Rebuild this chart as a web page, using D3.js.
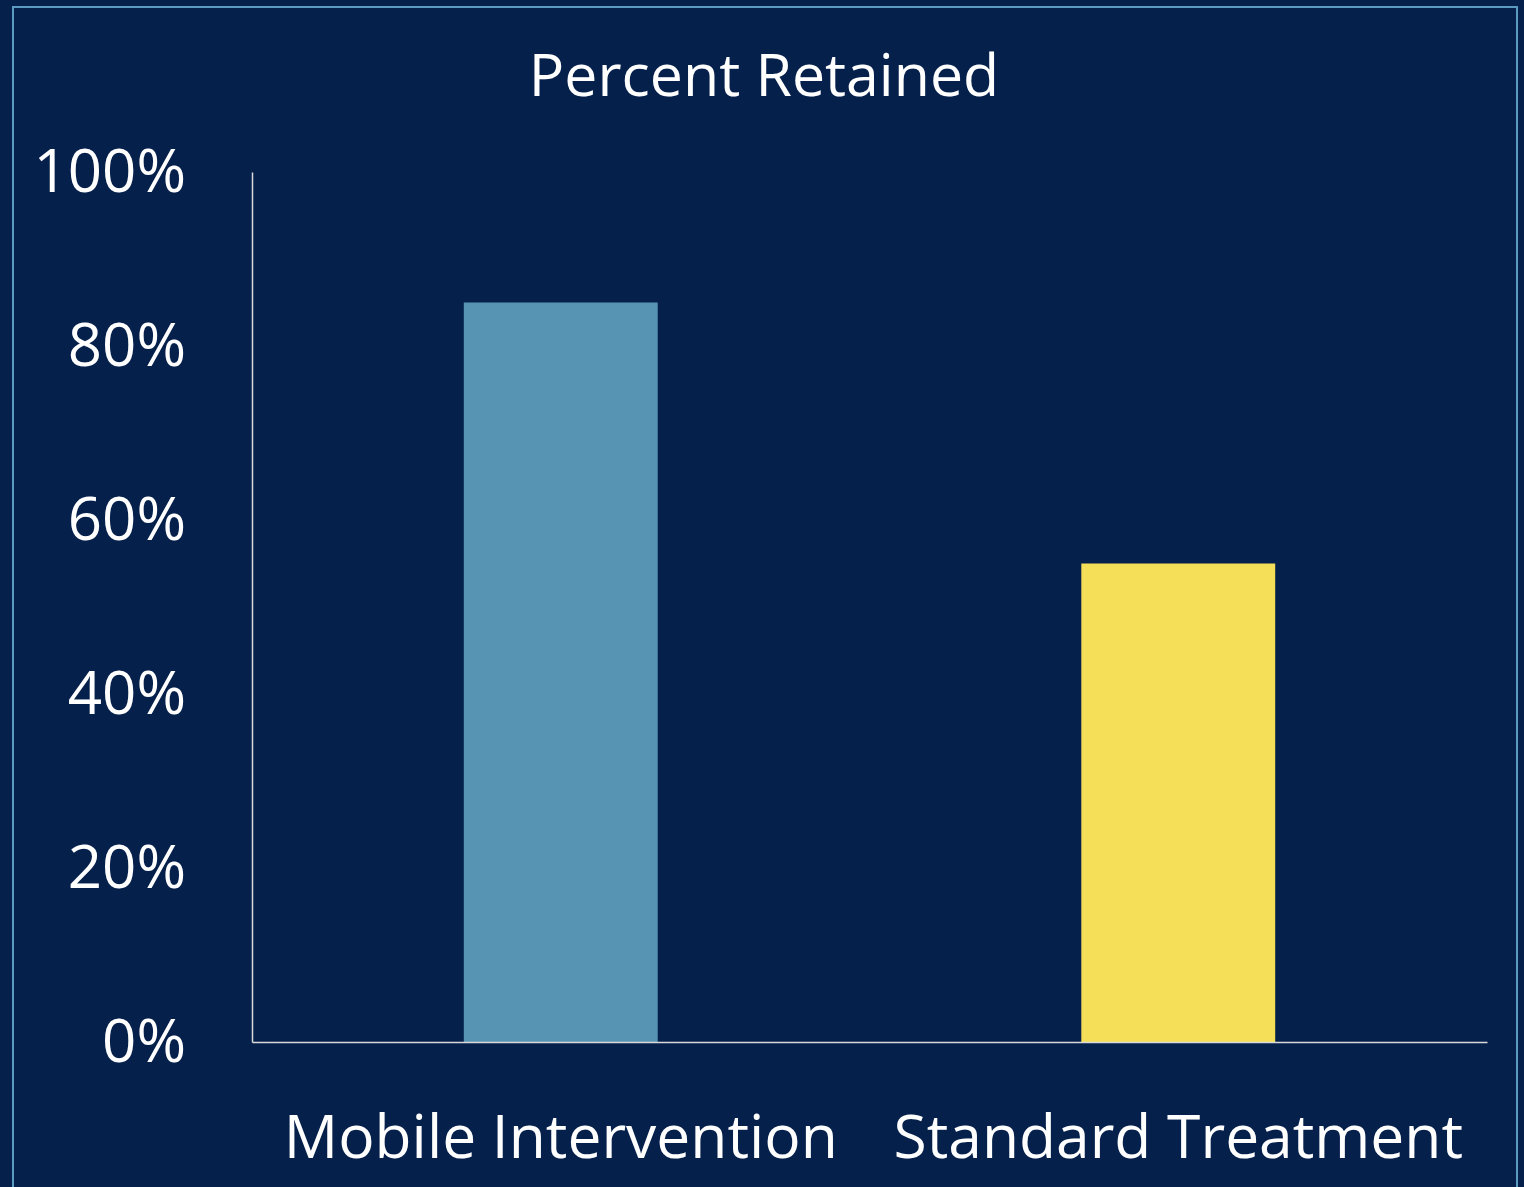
<!DOCTYPE html>
<html>
<head>
<meta charset="utf-8">
<script src="https://cdn.jsdelivr.net/npm/d3@7"></script>
<style>
  html, body { margin: 0; padding: 0; background: #06204C; }
  svg { display: block; }
  text { font-family: "Open Sans", "Noto Sans", sans-serif; fill: #ffffff; }
</style>
</head>
<body>
<svg id="chart" width="1524" height="1187"></svg>
<script>
// Retention by group
const categories = ["Mobile Intervention", "Standard Treatment"];
const retained = [0.85, 0.55];
const barColors = ["#5794B4", "#F5DE58"];
const yTicks = [0, 0.2, 0.4, 0.6, 0.8, 1.0];
const titleText = "Percent Retained";

const W = 1524, H = 1187;
const margin = { top: 172, right: 37, bottom: 145, left: 252 };

const svg = d3.select("#chart");

svg.append("rect")
  .attr("width", W).attr("height", H)
  .attr("fill", "#06204C");

// frame
svg.append("rect")
  .attr("x", 13).attr("y", 7)
  .attr("width", 1504).attr("height", 1200)
  .attr("fill", "none")
  .attr("stroke", "#5B9BC0")
  .attr("stroke-width", 2);

const x = d3.scaleBand()
  .domain(categories)
  .range([margin.left, W - margin.right])
  .paddingInner(0.686)
  .paddingOuter(0.343);

const y = d3.scaleLinear()
  .domain([0, 1])
  .range([H - margin.bottom, margin.top]);

// bars
svg.append("g")
  .selectAll("rect")
  .data(categories)
  .join("rect")
  .attr("x", d => x(d))
  .attr("width", x.bandwidth())
  .attr("y", (d, i) => y(retained[i]))
  .attr("height", (d, i) => y(0) - y(retained[i]))
  .attr("fill", (d, i) => barColors[i]);

// y axis
const yAxis = svg.append("g")
  .attr("transform", `translate(${margin.left},0)`)
  .call(d3.axisLeft(y)
    .tickValues(yTicks)
    .tickFormat(d3.format(".0%"))
    .tickSize(0)
    .tickSizeOuter(0)
    .tickPadding(66));
yAxis.select(".domain").attr("stroke", "#D9D9D9").attr("stroke-width", 1.5);
yAxis.selectAll("text")
  .attr("font-size", 60)
  .attr("font-family", "'Open Sans', 'Noto Sans', sans-serif")
  .attr("fill", "#ffffff");

// x axis
const xAxis = svg.append("g")
  .attr("transform", `translate(0,${y(0)})`)
  .call(d3.axisBottom(x)
    .tickSize(0)
    .tickSizeOuter(0)
    .tickPadding(0));
xAxis.select(".domain").attr("stroke", "#D9D9D9").attr("stroke-width", 1.5);
xAxis.selectAll("text")
  .attr("font-size", 60.5)
  .attr("font-family", "'Open Sans', 'Noto Sans', sans-serif")
  .attr("fill", "#ffffff")
  .attr("dy", null)
  .attr("y", 116);

// title
svg.append("text")
  .attr("x", 764)
  .attr("y", 96)
  .attr("text-anchor", "middle")
  .attr("font-size", 59)
  .text(titleText);
</script>
</body>
</html>
